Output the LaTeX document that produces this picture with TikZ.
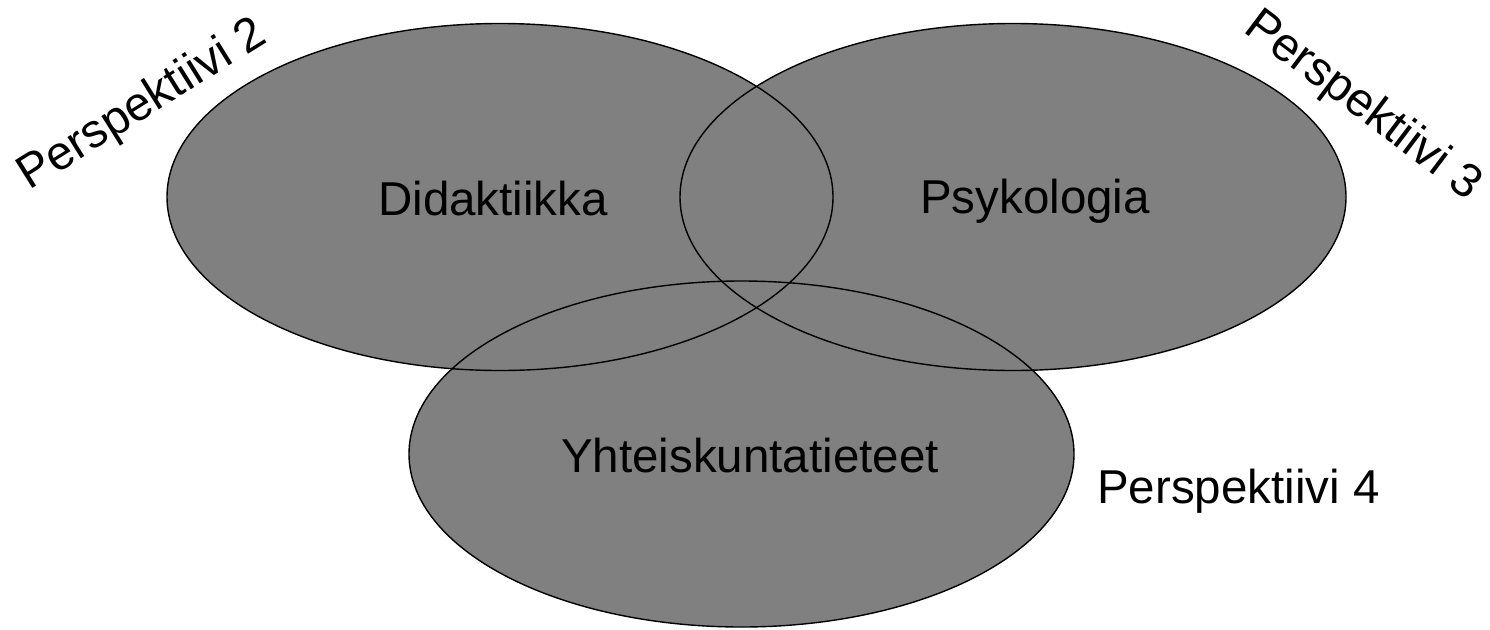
\documentclass[tikz,border=0pt]{standalone}
\usepackage{fontspec}
\setmainfont{Liberation Sans}
\begin{document}
\begin{tikzpicture}[x=1pt,y=-1pt,
  blob/.style={fill={rgb,255:red,128;green,128;blue,128}},
  rim/.style={draw=black,line width=1.4pt},
  lbl/.style={font=\fontsize{47.5}{57}\selectfont,inner sep=0pt,anchor=base}]
\useasboundingbox (0,0) rectangle (1490,629);
% fills
\fill[blob] (500,197) ellipse [x radius=333pt, y radius=173.5pt];
\fill[blob] (1013,197) ellipse [x radius=333pt, y radius=173.5pt];
\fill[blob] (741.5,454) ellipse [x radius=332.5pt, y radius=173pt];
% outlines
\draw[rim] (500,197) ellipse [x radius=333pt, y radius=173.5pt];
\draw[rim] (1013,197) ellipse [x radius=333pt, y radius=173.5pt];
\draw[rim] (741.5,454) ellipse [x radius=332.5pt, y radius=173pt];
% labels
\node[lbl] (did) at (493,215) {Didaktiikka};
\node[lbl] (psy) at (1035,213) {Psykologia};
\node[lbl] (yht) at (750,472) {Yhteiskuntatieteet};
\node[lbl,anchor=base west] (p4) at (1097,503) {Perspektiivi 4};
\node[lbl,rotate=32] (p2) at (149,116) {Perspektiivi 2};
\node[lbl,rotate=-37] (p3) at (1355,116) {Perspektiivi 3};
\end{tikzpicture}
\end{document}
